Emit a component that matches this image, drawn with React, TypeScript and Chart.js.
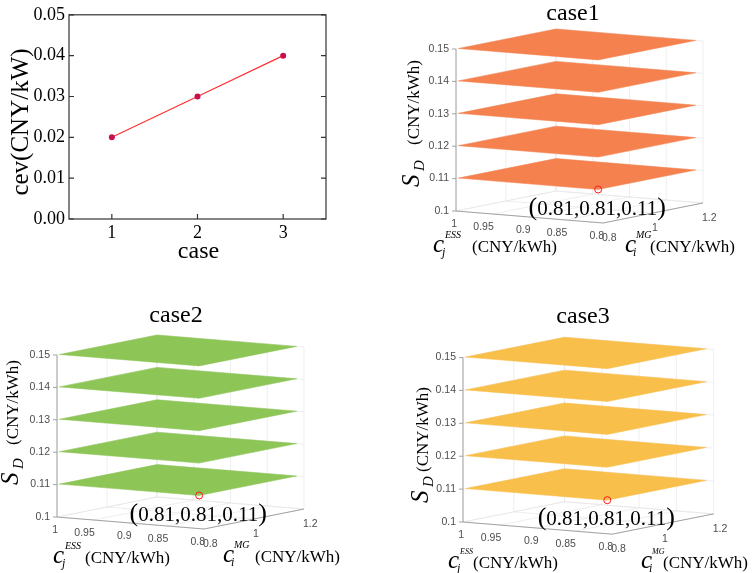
import { useEffect, useRef } from "react";
import { Chart, registerables } from "chart.js";

Chart.register(...registerables);

// ---- top-left chart data ----
const caseNumbers = [1, 2, 3];
const cevValues = [0.02, 0.03, 0.04];
const cevTicks = [0, 0.01, 0.02, 0.03, 0.04, 0.05];

// ---- 3D panel data ----
const panelTitles = ["case1", "case2", "case3"];
const panelColors = ["#F5814F", "#8DC557", "#F9BF4B"];
const sdLevels = [0.11, 0.12, 0.13, 0.14, 0.15];
const sdTicks = [0.1, 0.11, 0.12, 0.13, 0.14, 0.15];
const cjTicks = [1, 0.95, 0.9, 0.85, 0.8];
const ciTicks = [0.8, 1, 1.2];
const cjSpan = [0.81, 1];
const ciSpan = [0.81, 1.2];
const optimum = [0.81, 0.81, 0.11];
const optimumLabel = "0.81,0.81,0.11";

const SERIF = "'Liberation Serif', 'Times New Roman', serif";
const SANS = "'Liberation Sans', Arial, sans-serif";

// view projection (pixels per unit of each axis)
const CJ_DX = 735;
const CJ_DY = 60;
const CI_DX = 250;
const CI_DY = 50;
const SD_DY = 3240;

const cjMax = cjTicks[0];
const cjMin = cjTicks[cjTicks.length - 1];
const ciMin = ciTicks[0];
const ciMax = ciTicks[ciTicks.length - 1];
const sdMin = sdTicks[0];
const sdMax = sdTicks[sdTicks.length - 1];

type Pt = { x: number; y: number };
type Panel = {
  left: number;
  top: number;
  w: number;
  h: number;
  ox: number;
  oy: number;
  s: number;
  title: [number, number];
  cj: { c: number; cny: number; base: number; sup: number };
  ci: { c: number; cny: number; base: number; sup: number };
  z: { x: number; s: number; cny: number };
};

const panels: Panel[] = [
  {
    left: 380, top: 0, w: 374, h: 270, ox: 76, oy: 211, s: 1, title: [193, 20],
    cj: { c: -23, cny: 16, base: 41, sup: 10 },
    ci: { c: 169, cny: 194, base: 41, sup: 10 },
    z: { x: -37, s: -24, cny: -66 },
  },
  {
    left: 0, top: 270, w: 380, h: 303, ox: 57, oy: 247, s: 1, title: [176, 52],
    cj: { c: -4, cny: 28, base: 46, sup: 10 },
    ci: { c: 166, cny: 198, base: 45, sup: 10 },
    z: { x: -39, s: -32, cny: -72 },
  },
  {
    left: 380, top: 270, w: 374, h: 303, ox: 83, oy: 252, s: 1.015, title: [203, 53],
    cj: { c: -15, cny: 10, base: 46, sup: 8 },
    ci: { c: 178, cny: 200, base: 46, sup: 8 },
    z: { x: -35, s: -19, cny: -50 },
  },
];

const project = (p: Panel, cj: number, ci: number, sd: number): Pt => ({
  x: p.ox + p.s * ((cjMax - cj) * CJ_DX + (ci - ciMin) * CI_DX),
  y: p.oy + p.s * ((cjMax - cj) * CJ_DY - (ci - ciMin) * CI_DY - (sd - sdMin) * SD_DY),
});

const segment = (a: Pt, b: Pt, color: string, order: number, width = 0.7) => ({
  data: [a, b],
  showLine: true,
  borderColor: color,
  borderWidth: width,
  pointRadius: 0,
  fill: false,
  order,
});

function panelConfig(p: Panel, idx: number): any {
  const grid = "#e6e6e6";
  const axis = "#9a9a9a";
  const datasets: any[] = [];

  // floor grid
  cjTicks.forEach((cj) =>
    datasets.push(segment(project(p, cj, ciMin, sdMin), project(p, cj, ciMax, sdMin), grid, 100))
  );
  ciTicks.forEach((ci) =>
    datasets.push(segment(project(p, cjMax, ci, sdMin), project(p, cjMin, ci, sdMin), grid, 100))
  );
  // back walls
  ciTicks.forEach((ci) =>
    datasets.push(segment(project(p, cjMax, ci, sdMin), project(p, cjMax, ci, sdMax), grid, 100))
  );
  cjTicks.forEach((cj) =>
    datasets.push(segment(project(p, cj, ciMax, sdMin), project(p, cj, ciMax, sdMax), grid, 100))
  );
  sdTicks.forEach((sd) => {
    datasets.push(segment(project(p, cjMax, ciMin, sd), project(p, cjMax, ciMax, sd), grid, 100));
    datasets.push(segment(project(p, cjMax, ciMax, sd), project(p, cjMin, ciMax, sd), grid, 100));
  });

  // axes
  datasets.push(segment(project(p, cjMax, ciMin, sdMin), project(p, cjMax, ciMin, sdMax), axis, 90, 0.9));
  datasets.push(segment(project(p, cjMax, ciMin, sdMin), project(p, cjMin, ciMin, sdMin), axis, 90, 0.9));
  datasets.push(segment(project(p, cjMin, ciMin, sdMin), project(p, cjMin, ciMax, sdMin), axis, 90, 0.9));

  // solution planes
  sdLevels.forEach((sd, k) => {
    const corners = [
      project(p, cjSpan[1], ciSpan[0], sd),
      project(p, cjSpan[1], ciSpan[1], sd),
      project(p, cjSpan[0], ciSpan[1], sd),
      project(p, cjSpan[0], ciSpan[0], sd),
      project(p, cjSpan[1], ciSpan[0], sd),
    ];
    datasets.push({
      data: corners,
      showLine: true,
      fill: "shape",
      backgroundColor: panelColors[idx],
      borderColor: panelColors[idx],
      borderWidth: 0.5,
      pointRadius: 0,
      order: 50 - k,
    });
  });

  // optimum marker
  datasets.push({
    data: [project(p, optimum[0], optimum[1], optimum[2])],
    showLine: false,
    pointRadius: 3.5,
    pointBorderColor: "#ff1a1a",
    pointBackgroundColor: "rgba(0,0,0,0)",
    pointBorderWidth: 1,
    order: 0,
  });

  const decor = {
    id: "panelDecor" + idx,
    afterDraw(chart: any) {
      const ctx = chart.ctx as CanvasRenderingContext2D;
      const sx = chart.scales.x;
      const sy = chart.scales.y;
      const px = (q: Pt): Pt => ({ x: sx.getPixelForValue(q.x), y: sy.getPixelForValue(q.y) });
      ctx.save();

      // z ticks and labels
      ctx.font = `10.5px ${SANS}`;
      ctx.fillStyle = "#4d4d4d";
      ctx.strokeStyle = axis;
      ctx.lineWidth = 0.9;
      ctx.textAlign = "right";
      ctx.textBaseline = "middle";
      sdTicks.forEach((sd) => {
        const q = px(project(p, cjMax, ciMin, sd));
        ctx.beginPath();
        ctx.moveTo(q.x - 4, q.y);
        ctx.lineTo(q.x, q.y);
        ctx.stroke();
        ctx.fillText(String(sd), q.x - 7, q.y);
      });
      // cj labels
      cjTicks.forEach((cj) => {
        const q = px(project(p, cj, ciMin, sdMin));
        ctx.textAlign = "right";
        ctx.fillText(String(cj), q.x + 1, q.y + 13);
      });
      // ci labels
      ciTicks.forEach((ci) => {
        const q = px(project(p, cjMin, ci, sdMin));
        ctx.textAlign = "left";
        ctx.fillText(String(ci), q.x - 1, q.y + 15);
      });

      ctx.fillStyle = "#000";
      ctx.textBaseline = "alphabetic";

      // title
      ctx.font = `24px ${SERIF}`;
      ctx.textAlign = "center";
      ctx.fillText(panelTitles[idx], p.title[0], p.title[1]);

      // annotation
      const m = px(project(p, optimum[0], optimum[1], optimum[2]));
      const cy = m.y + 18;
      ctx.textAlign = "left";
      ctx.font = `26px ${SERIF}`;
      const pw = ctx.measureText("(").width;
      ctx.font = `21px ${SERIF}`;
      const iw = ctx.measureText(optimumLabel).width;
      const x0 = m.x - 1 - (2 * pw + iw) / 2;
      ctx.font = `26px ${SERIF}`;
      ctx.fillText("(", x0, cy + 7);
      ctx.font = `21px ${SERIF}`;
      ctx.fillText(optimumLabel, x0 + pw, cy + 7);
      ctx.font = `26px ${SERIF}`;
      ctx.fillText(")", x0 + pw + iw, cy + 7);

      // cj axis title
      const bx = p.ox;
      const by = p.oy;
      ctx.font = `italic 25px ${SERIF}`;
      ctx.fillText("c", bx + p.cj.c, by + p.cj.base);
      ctx.font = `italic ${p.cj.sup}px ${SERIF}`;
      ctx.fillText("ESS", bx + p.cj.c + 12, by + p.cj.base - 14);
      ctx.font = `italic 12px ${SERIF}`;
      ctx.fillText("j", bx + p.cj.c + 9, by + p.cj.base + 4);
      ctx.font = `17px ${SERIF}`;
      ctx.fillText("(CNY/kWh)", bx + p.cj.cny, by + p.cj.base);

      // ci axis title
      ctx.font = `italic 25px ${SERIF}`;
      ctx.fillText("c", bx + p.ci.c, by + p.ci.base);
      ctx.font = `italic ${p.ci.sup}px ${SERIF}`;
      ctx.fillText("MG", bx + p.ci.c + 11, by + p.ci.base - 14);
      ctx.font = `italic 12px ${SERIF}`;
      ctx.fillText("i", bx + p.ci.c + 8, by + p.ci.base + 4);
      ctx.font = `17px ${SERIF}`;
      ctx.fillText("(CNY/kWh)", bx + p.ci.cny, by + p.ci.base);

      // z axis title (rotated)
      ctx.translate(bx + p.z.x, by + p.z.s);
      ctx.rotate(-Math.PI / 2);
      ctx.font = `italic 25px ${SERIF}`;
      ctx.fillText("S", 0, 0);
      ctx.font = `italic 15px ${SERIF}`;
      ctx.fillText("D", 16, 5);
      ctx.font = `17px ${SERIF}`;
      ctx.fillText("(CNY/kWh)", p.z.s - p.z.cny, 0);

      ctx.restore();
    },
  };

  return {
    type: "scatter",
    data: { datasets },
    options: {
      animation: false,
      responsive: false,
      events: [],
      layout: { padding: 0, autoPadding: false },
      scales: {
        x: { type: "linear", display: false, min: 0, max: p.w },
        y: { type: "linear", display: false, min: 0, max: p.h, reverse: true },
      },
      plugins: { legend: { display: false }, tooltip: { enabled: false } },
    },
    plugins: [decor],
  };
}

function cevConfig(): any {
  const frame = {
    id: "cevFrame",
    afterDraw(chart: any) {
      const ctx = chart.ctx as CanvasRenderingContext2D;
      const { left, right, top, bottom } = chart.chartArea;
      const sx = chart.scales.x;
      const sy = chart.scales.y;
      ctx.save();
      ctx.strokeStyle = "#333";
      ctx.lineWidth = 1.2;
      ctx.strokeRect(left, top, right - left, bottom - top);
      ctx.beginPath();
      cevTicks.forEach((v) => {
        const y = sy.getPixelForValue(v);
        ctx.moveTo(left, y);
        ctx.lineTo(left + 5, y);
        ctx.moveTo(right, y);
        ctx.lineTo(right - 5, y);
      });
      caseNumbers.forEach((v) => {
        const x = sx.getPixelForValue(v);
        ctx.moveTo(x, bottom);
        ctx.lineTo(x, bottom - 5);
      });
      ctx.stroke();

      ctx.fillStyle = "#000";
      ctx.font = `24px ${SERIF}`;
      ctx.textAlign = "center";
      ctx.textBaseline = "alphabetic";
      ctx.fillText("case", (left + right) / 2 + 1, 258);
      ctx.translate(21, 122);
      ctx.rotate(-Math.PI / 2);
      ctx.font = `25px ${SERIF}`;
      ctx.textBaseline = "middle";
      ctx.fillText("cev(CNY/kW)", 0, 0);
      ctx.restore();
    },
  };

  const tickFont = { family: SERIF, size: 18 };
  return {
    type: "scatter",
    data: {
      datasets: [
        {
          data: caseNumbers.map((c, i) => ({ x: c, y: cevValues[i] })),
          showLine: true,
          borderColor: "#ff3030",
          borderWidth: 1.2,
          pointRadius: 3,
          pointBackgroundColor: "#c8104e",
          pointBorderColor: "#c8104e",
          pointBorderWidth: 0,
        },
      ],
    },
    options: {
      animation: false,
      responsive: false,
      events: [],
      layout: { padding: { top: 13, right: 14, left: 0, bottom: 0 } },
      scales: {
        x: {
          type: "linear",
          min: 0.5,
          max: 3.5,
          afterBuildTicks: (s: any) => {
            s.ticks = caseNumbers.map((v) => ({ value: v }));
          },
          afterFit: (s: any) => {
            s.height = 46;
          },
          ticks: { font: tickFont, color: "#000", padding: 3, callback: (v: any) => String(v) },
          grid: { display: false, drawTicks: false },
          border: { display: false },
        },
        y: {
          type: "linear",
          min: 0,
          max: 0.05,
          afterBuildTicks: (s: any) => {
            s.ticks = cevTicks.map((v) => ({ value: v }));
          },
          afterFit: (s: any) => {
            s.width = 69;
          },
          ticks: { font: tickFont, color: "#000", padding: 4, callback: (v: any) => Number(v).toFixed(2) },
          grid: { display: false, drawTicks: false },
          border: { display: false },
        },
      },
      plugins: { legend: { display: false }, tooltip: { enabled: false } },
    },
    plugins: [frame],
  };
}

function ChartCanvas({ make, left, top, width, height }: any) {
  const canvasRef = useRef<HTMLCanvasElement | null>(null);
  const chartRef = useRef<Chart | null>(null);

  useEffect(() => {
    if (canvasRef.current) {
      if (chartRef.current) chartRef.current.destroy();
      chartRef.current = new Chart(canvasRef.current, make());
    }
    return () => {
      if (chartRef.current) {
        chartRef.current.destroy();
        chartRef.current = null;
      }
    };
  }, [make]);

  return (
    <canvas
      ref={canvasRef}
      width={width}
      height={height}
      style={{ position: "absolute", left, top, width, height }}
    />
  );
}

const makeCev = () => cevConfig();
const panelMakers = panels.map((p, i) => () => panelConfig(p, i));

export default function App() {
  return (
    <div style={{ position: "fixed", left: 0, top: 0, width: 754, height: 573, background: "#fff" }}>
      <ChartCanvas make={makeCev} left={0} top={0} width={340} height={265} />
      {panels.map((p, i) => (
        <ChartCanvas key={i} make={panelMakers[i]} left={p.left} top={p.top} width={p.w} height={p.h} />
      ))}
    </div>
  );
}
